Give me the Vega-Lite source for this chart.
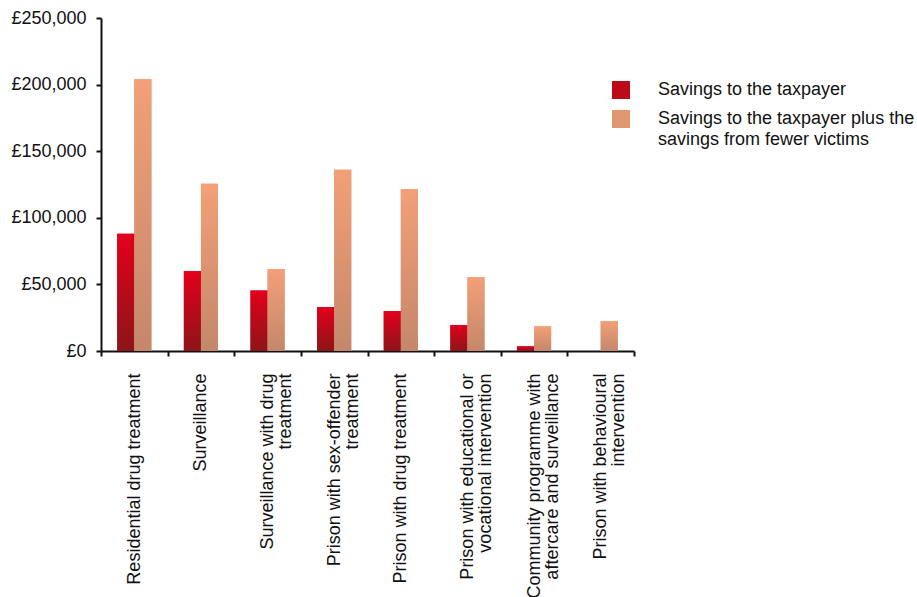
{
  "$schema": "https://vega.github.io/schema/vega-lite/v6.json",
  "width": 533,
  "height": 333,
  "autosize": {"type": "none"},
  "padding": {"left": 101, "top": 18, "right": 283, "bottom": 246},
  "background": "white",
  "config": {"view": {"stroke": null}, "font": "Liberation Sans"},
  "data": {
    "values": [
      {"category": "Residential drug treatment", "series": "Savings to the taxpayer", "value": 88000},
      {"category": "Residential drug treatment", "series": "Savings to the taxpayer plus the savings from fewer victims", "value": 204000},
      {"category": "Surveillance", "series": "Savings to the taxpayer", "value": 60000},
      {"category": "Surveillance", "series": "Savings to the taxpayer plus the savings from fewer victims", "value": 125500},
      {"category": "Surveillance with drug treatment", "series": "Savings to the taxpayer", "value": 45500},
      {"category": "Surveillance with drug treatment", "series": "Savings to the taxpayer plus the savings from fewer victims", "value": 61500},
      {"category": "Prison with sex-offender treatment", "series": "Savings to the taxpayer", "value": 33000},
      {"category": "Prison with sex-offender treatment", "series": "Savings to the taxpayer plus the savings from fewer victims", "value": 136000},
      {"category": "Prison with drug treatment", "series": "Savings to the taxpayer", "value": 30000},
      {"category": "Prison with drug treatment", "series": "Savings to the taxpayer plus the savings from fewer victims", "value": 121500},
      {"category": "Prison with educational or vocational intervention", "series": "Savings to the taxpayer", "value": 19500},
      {"category": "Prison with educational or vocational intervention", "series": "Savings to the taxpayer plus the savings from fewer victims", "value": 55500},
      {"category": "Community programme with aftercare and surveillance", "series": "Savings to the taxpayer", "value": 3500},
      {"category": "Community programme with aftercare and surveillance", "series": "Savings to the taxpayer plus the savings from fewer victims", "value": 18500},
      {"category": "Prison with behavioural intervention", "series": "Savings to the taxpayer", "value": 0},
      {"category": "Prison with behavioural intervention", "series": "Savings to the taxpayer plus the savings from fewer victims", "value": 22500}
    ]
  },
  "encoding": {
    "x": {
      "field": "category",
      "type": "nominal",
      "sort": null,
      "scale": {"paddingInner": 0, "paddingOuter": 0},
      "axis": {
        "title": null,
        "tickBand": "extent",
        "domainColor": "#111111",
        "domainWidth": 2,
        "tickColor": "#111111",
        "tickWidth": 2,
        "tickSize": 5,
        "labelAngle": -90,
        "labelAlign": "right",
        "labelBaseline": "middle",
        "labelFont": "Liberation Sans",
        "labelFontSize": 18,
        "labelLineHeight": 18,
        "labelColor": "#111111",
        "labelPadding": 17,
        "labelLimit": 0,
        "labelExpr": "datum.label == 'Surveillance with drug treatment' ? ['Surveillance with drug','treatment'] : datum.label == 'Prison with sex-offender treatment' ? ['Prison with sex-offender','treatment'] : datum.label == 'Prison with educational or vocational intervention' ? ['Prison with educational or','vocational intervention'] : datum.label == 'Community programme with aftercare and surveillance' ? ['Community programme with','aftercare and surveillance'] : datum.label == 'Prison with behavioural intervention' ? ['Prison with behavioural','intervention'] : datum.label",
        "encode": {
          "labels": {
            "update": {
              "dy": {"signal": "indexof(['Surveillance with drug treatment', 'Prison with sex-offender treatment', 'Prison with educational or vocational intervention', 'Community programme with aftercare and surveillance', 'Prison with behavioural intervention'], datum.value) >= 0 ? -5 : 0"}
            }
          }
        }
      }
    },
    "xOffset": {
      "field": "series",
      "type": "nominal",
      "scale": {"paddingInner": 0, "paddingOuter": 0.95}
    },
    "y": {
      "field": "value",
      "type": "quantitative",
      "scale": {"domain": [0, 250000], "nice": false},
      "axis": {
        "title": null,
        "grid": false,
        "values": [0, 50000, 100000, 150000, 200000, 250000],
        "labelExpr": "'£' + format(datum.value, ',')",
        "domainColor": "#111111",
        "domainWidth": 2,
        "tickColor": "#111111",
        "tickWidth": 2,
        "tickSize": 5,
        "labelFont": "Liberation Sans",
        "labelFontSize": 18,
        "labelColor": "#111111",
        "labelPadding": 10
      }
    }
  },
  "layer": [
    {
      "mark": {"type": "bar", "strokeWidth": 0},
      "encoding": {
        "color": {
          "field": "series",
          "type": "nominal",
          "scale": {
            "domain": ["Savings to the taxpayer", "Savings to the taxpayer plus the savings from fewer victims"],
            "range": ["#bd0a1b", "#e0966f"]
          },
          "legend": {
            "title": null,
            "orient": "none",
            "legendX": 511,
            "legendY": 63,
            "padding": 0,
            "symbolType": "square",
            "symbolSize": 324,
            "symbolStrokeWidth": 0,
            "labelFont": "Liberation Sans",
            "labelFontSize": 18,
            "labelColor": "#111111",
            "labelOffset": 28,
            "labelLimit": 0,
            "rowPadding": 11,
            "labelExpr": "datum.label == 'Savings to the taxpayer plus the savings from fewer victims' ? ['Savings to the taxpayer plus the', 'savings from fewer victims'] : datum.label",
            "encode": {
              "labels": {
                "update": {"lineHeight": {"value": 21}}
              },
              "symbols": {
                "enter": {
                  "fill": {"signal": "datum.value == 'Savings to the taxpayer' ? {gradient: 'linear', x1: 0, y1: 0, x2: 0, y2: 1, stops: [{offset: 0, color: '#e3001b'}, {offset: 1, color: '#8c1518'}]} : {gradient: 'linear', x1: 0, y1: 0, x2: 0, y2: 1, stops: [{offset: 0, color: '#f2a077'}, {offset: 1, color: '#c4876b'}]}"}
                },
                "update": {
                  "fill": {"signal": "datum.value == 'Savings to the taxpayer' ? {gradient: 'linear', x1: 0, y1: 0, x2: 0, y2: 1, stops: [{offset: 0, color: '#e3001b'}, {offset: 1, color: '#8c1518'}]} : {gradient: 'linear', x1: 0, y1: 0, x2: 0, y2: 1, stops: [{offset: 0, color: '#f2a077'}, {offset: 1, color: '#c4876b'}]}"}
                }
              }
            }
          }
        }
      }
    },
    {
      "transform": [{"filter": "datum.series == 'Savings to the taxpayer'"}],
      "mark": {
        "type": "bar",
        "strokeWidth": 0,
        "color": {"gradient": "linear", "x1": 0, "y1": 0, "x2": 0, "y2": 1, "stops": [{"offset": 0, "color": "#e3001b"}, {"offset": 1, "color": "#8c1518"}]}
      }
    },
    {
      "transform": [{"filter": "datum.series != 'Savings to the taxpayer'"}],
      "mark": {
        "type": "bar",
        "strokeWidth": 0,
        "color": {"gradient": "linear", "x1": 0, "y1": 0, "x2": 0, "y2": 1, "stops": [{"offset": 0, "color": "#f2a077"}, {"offset": 1, "color": "#c4876b"}]}
      }
    }
  ]
}
